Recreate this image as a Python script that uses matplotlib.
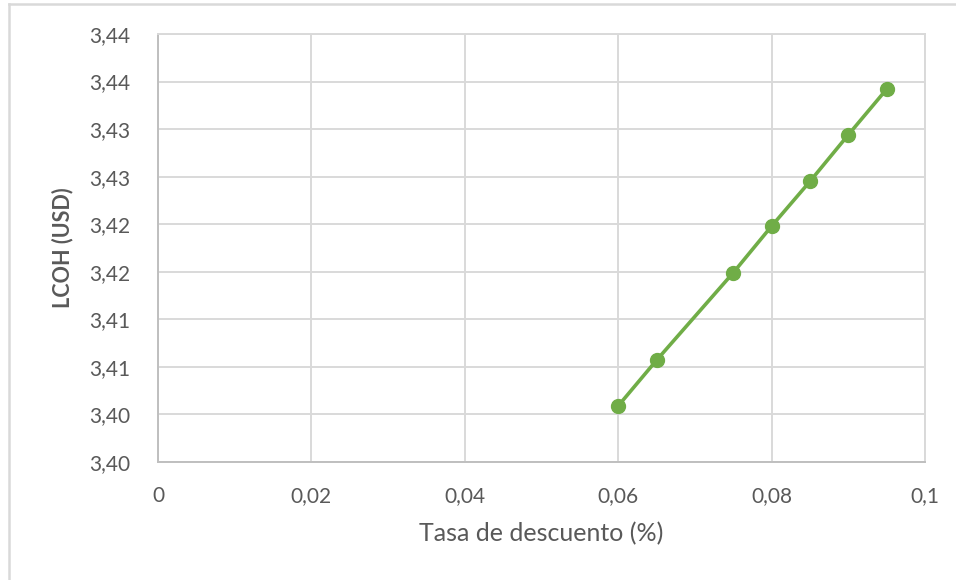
import numpy as np
import matplotlib
matplotlib.use("Agg")
import matplotlib.pyplot as plt
from matplotlib.ticker import FuncFormatter
from matplotlib.lines import Line2D

# Discount rate vs levelized cost of hydrogen
tasa = [0.06, 0.065, 0.075, 0.08, 0.085, 0.09, 0.095]
lcoh = [3.4009, 3.4057, 3.4149, 3.4198, 3.4245, 3.4294, 3.4342]

x_ticks = [0, 0.02, 0.04, 0.06, 0.08, 0.1]
y_ticks = [3.395, 3.400, 3.405, 3.410, 3.415, 3.420, 3.425, 3.430, 3.435, 3.440]

x_label = "Tasa de descuento (%)"
y_label = "LCOH (USD)"

plt.rcParams["font.family"] = ["Lato", "DejaVu Sans"]
text_color = "#595959"
grid_color = "#d9d9d9"
green = "#70ad47"

fig = plt.figure(figsize=(9.56, 5.8), dpi=100)
ax = fig.add_axes([158 / 956, 1 - 462 / 580, 767 / 956, 428 / 580])

ax.plot(tasa, lcoh, color=green, lw=2.6, marker="o", markersize=10,
        markerfacecolor=green, markeredgecolor=green, zorder=3,
        solid_capstyle="round")

ax.set_xlim(x_ticks[0], x_ticks[-1])
ax.set_ylim(y_ticks[0], y_ticks[-1])
ax.set_xticks(x_ticks)
ax.set_yticks(y_ticks)


def fmt_y(v, _):
    return f"{round(v + 1e-9, 2):.2f}".replace(".", ",")


def fmt_x(v, _):
    return f"{round(v, 6):g}".replace(".", ",")


ax.yaxis.set_major_formatter(FuncFormatter(fmt_y))
ax.xaxis.set_major_formatter(FuncFormatter(fmt_x))

ax.grid(True, color=grid_color, lw=1.4, zorder=0)
ax.set_axisbelow(True)
ax.tick_params(length=0, labelsize=15, labelcolor=text_color)
ax.tick_params(axis="y", pad=20)
ax.tick_params(axis="x", pad=17)

for side in ("top", "right"):
    ax.spines[side].set_color(grid_color)
    ax.spines[side].set_linewidth(1.4)
for side in ("left", "bottom"):
    ax.spines[side].set_color("#bfbfbf")
    ax.spines[side].set_linewidth(1.4)

ax.set_xlabel(x_label, fontsize=18, color=text_color)
ax.set_ylabel(y_label, fontsize=15.5, color=text_color, fontweight="bold")
ax.xaxis.set_label_coords(0.5, -0.14)
ax.yaxis.set_label_coords(-0.111, 0.5)

# Chart-area frame (top and left edges)
fig.add_artist(Line2D([9 / 956, 1.0], [1 - 4 / 580, 1 - 4 / 580],
                      transform=fig.transFigure, color="#d9d9d9", lw=1.8))
fig.add_artist(Line2D([9 / 956, 9 / 956], [0.0, 1 - 4 / 580],
                      transform=fig.transFigure, color="#d9d9d9", lw=1.8))

fig.savefig("out.png", dpi=100, facecolor="white")
